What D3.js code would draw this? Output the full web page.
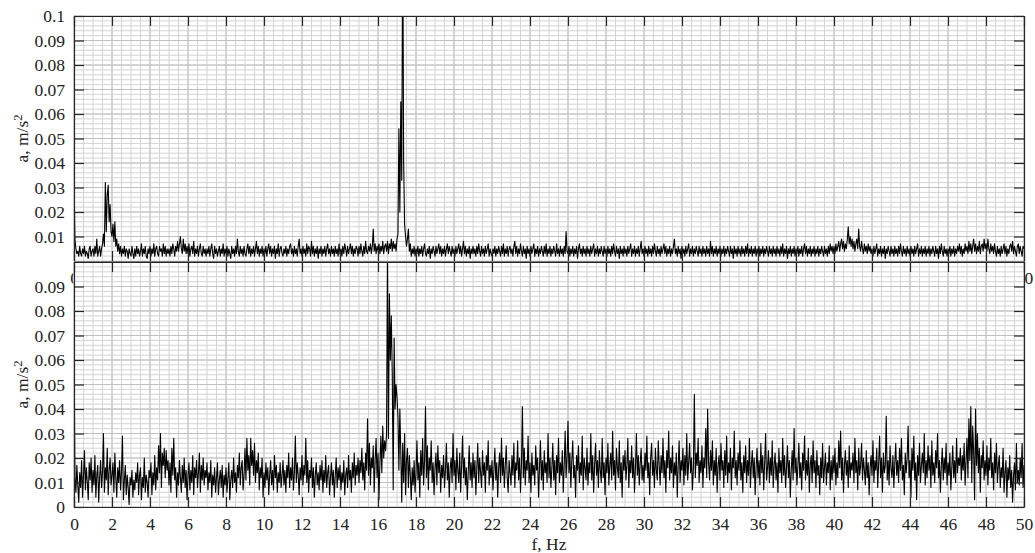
<!DOCTYPE html>
<html>
<head>
<meta charset="utf-8">
<script src="https://cdn.jsdelivr.net/npm/d3@7"></script>
<style>
  body { margin: 0; background: #fff; }
  text { font-family: "Liberation Serif", "Times New Roman", serif; }
</style>
</head>
<body>
<div id="chart"></div>
<script>
// spectrum amplitudes, m/s^2, frequency 0..50 Hz, 20 points per Hz (one row = 1 Hz)
const fMax = 50;

const accTop = [
0.035,0.009,0.005,0.003,0.004,0.002,0.006,0.003,0.002,0.005,0.003,0.006,0.002,0.004,0.003,0.001,0.005,0.006,0.002,0.004,
0.005,0.002,0.006,0.003,0.009,0.002,0.004,0.006,0.002,0.005,0.007,0.011,0.006,0.032,0.012,0.027,0.031,0.016,0.023,0.012,
0.010,0.015,0.008,0.016,0.006,0.009,0.004,0.007,0.003,0.006,0.002,0.005,0.003,0.006,0.002,0.005,0.004,0.001,0.005,0.003,
0.002,0.006,0.003,0.001,0.005,0.002,0.006,0.003,0.005,0.002,0.004,0.007,0.002,0.005,0.003,0.006,0.002,0.001,0.005,0.003,
0.006,0.002,0.005,0.003,0.007,0.002,0.005,0.006,0.003,0.002,0.006,0.004,0.005,0.002,0.007,0.003,0.006,0.002,0.005,0.003,
0.005,0.002,0.006,0.003,0.007,0.005,0.002,0.006,0.004,0.008,0.004,0.007,0.010,0.005,0.003,0.009,0.004,0.007,0.003,0.006,
0.003,0.007,0.002,0.005,0.006,0.003,0.008,0.002,0.005,0.003,0.006,0.002,0.005,0.007,0.003,0.002,0.006,0.003,0.005,0.002,
0.005,0.003,0.006,0.002,0.005,0.007,0.003,0.001,0.006,0.003,0.005,0.002,0.004,0.006,0.002,0.005,0.003,0.007,0.002,0.005,
0.003,0.006,0.002,0.005,0.003,0.001,0.006,0.003,0.005,0.002,0.006,0.003,0.009,0.004,0.002,0.006,0.003,0.005,0.002,0.006,
0.003,0.002,0.005,0.007,0.003,0.006,0.002,0.005,0.003,0.006,0.002,0.005,0.008,0.003,0.006,0.002,0.005,0.003,0.006,0.002,
0.005,0.003,0.006,0.002,0.005,0.007,0.003,0.006,0.002,0.005,0.003,0.006,0.001,0.005,0.003,0.007,0.002,0.005,0.006,0.003,
0.002,0.005,0.003,0.006,0.002,0.005,0.003,0.006,0.007,0.003,0.005,0.002,0.006,0.003,0.005,0.002,0.006,0.009,0.003,0.005,
0.002,0.006,0.003,0.005,0.002,0.007,0.003,0.006,0.005,0.002,0.008,0.003,0.006,0.002,0.005,0.003,0.006,0.001,0.005,0.003,
0.006,0.002,0.005,0.003,0.006,0.002,0.005,0.007,0.003,0.005,0.002,0.006,0.003,0.005,0.002,0.006,0.003,0.005,0.002,0.007,
0.003,0.005,0.002,0.006,0.003,0.007,0.005,0.002,0.006,0.003,0.005,0.007,0.003,0.006,0.002,0.005,0.003,0.006,0.005,0.002,
0.006,0.003,0.007,0.004,0.002,0.006,0.003,0.008,0.004,0.003,0.006,0.004,0.007,0.003,0.006,0.013,0.004,0.007,0.003,0.006,
0.004,0.007,0.003,0.006,0.004,0.008,0.003,0.006,0.007,0.004,0.008,0.003,0.007,0.005,0.009,0.004,0.008,0.005,0.007,0.004,
0.009,0.011,0.054,0.020,0.065,0.033,0.140,0.040,0.015,0.010,0.006,0.009,0.013,0.004,0.007,0.002,0.005,0.003,0.006,0.002,
0.005,0.003,0.006,0.002,0.005,0.003,0.006,0.002,0.005,0.007,0.003,0.002,0.005,0.003,0.006,0.001,0.005,0.003,0.006,0.004,
0.002,0.006,0.003,0.005,0.007,0.003,0.006,0.002,0.005,0.003,0.006,0.002,0.005,0.007,0.003,0.006,0.004,0.002,0.006,0.003,
0.005,0.002,0.006,0.003,0.005,0.007,0.003,0.006,0.002,0.005,0.008,0.003,0.006,0.002,0.005,0.003,0.006,0.001,0.005,0.003,
0.006,0.003,0.005,0.002,0.006,0.003,0.007,0.004,0.002,0.006,0.003,0.005,0.002,0.006,0.003,0.005,0.007,0.002,0.005,0.003,
0.002,0.005,0.003,0.006,0.002,0.005,0.003,0.006,0.004,0.002,0.006,0.003,0.007,0.002,0.005,0.003,0.006,0.002,0.005,0.006,
0.003,0.005,0.002,0.006,0.008,0.003,0.006,0.002,0.005,0.003,0.007,0.004,0.002,0.006,0.003,0.005,0.001,0.006,0.003,0.005,
0.002,0.006,0.003,0.005,0.007,0.002,0.005,0.003,0.006,0.002,0.005,0.003,0.006,0.004,0.002,0.006,0.003,0.007,0.002,0.005,
0.003,0.006,0.002,0.005,0.003,0.006,0.004,0.002,0.007,0.003,0.005,0.002,0.006,0.003,0.005,0.002,0.006,0.003,0.012,0.004,
0.003,0.006,0.002,0.005,0.003,0.006,0.002,0.005,0.003,0.006,0.001,0.005,0.007,0.003,0.005,0.002,0.006,0.003,0.005,0.002,
0.006,0.003,0.005,0.002,0.006,0.003,0.005,0.007,0.002,0.005,0.003,0.006,0.002,0.005,0.003,0.006,0.004,0.002,0.006,0.003,
0.005,0.002,0.006,0.003,0.005,0.002,0.006,0.003,0.007,0.004,0.002,0.006,0.003,0.005,0.001,0.006,0.003,0.005,0.002,0.006,
0.003,0.005,0.002,0.006,0.003,0.005,0.007,0.002,0.005,0.003,0.006,0.002,0.005,0.003,0.006,0.002,0.005,0.008,0.003,0.005,
0.002,0.006,0.003,0.005,0.002,0.006,0.003,0.005,0.002,0.006,0.003,0.007,0.004,0.002,0.006,0.003,0.005,0.002,0.006,0.003,
0.005,0.007,0.003,0.006,0.002,0.005,0.003,0.006,0.002,0.005,0.003,0.006,0.009,0.003,0.005,0.002,0.006,0.003,0.005,0.001,
0.006,0.003,0.005,0.002,0.006,0.003,0.005,0.007,0.002,0.005,0.003,0.006,0.002,0.005,0.003,0.006,0.004,0.002,0.006,0.003,
0.005,0.002,0.006,0.003,0.005,0.002,0.006,0.003,0.005,0.002,0.008,0.003,0.006,0.002,0.005,0.003,0.006,0.002,0.005,0.003,
0.006,0.002,0.005,0.003,0.006,0.002,0.005,0.003,0.006,0.004,0.002,0.006,0.003,0.005,0.001,0.006,0.003,0.005,0.002,0.006,
0.003,0.005,0.002,0.006,0.003,0.005,0.002,0.006,0.003,0.007,0.002,0.005,0.003,0.006,0.002,0.005,0.003,0.006,0.002,0.005,
0.003,0.006,0.002,0.005,0.003,0.006,0.002,0.005,0.003,0.006,0.004,0.002,0.006,0.003,0.005,0.002,0.006,0.003,0.005,0.002,
0.006,0.003,0.005,0.002,0.006,0.003,0.007,0.002,0.005,0.003,0.006,0.001,0.005,0.003,0.006,0.002,0.005,0.003,0.006,0.002,
0.005,0.003,0.006,0.002,0.005,0.003,0.006,0.002,0.005,0.007,0.003,0.006,0.002,0.005,0.003,0.006,0.002,0.005,0.003,0.006,
0.002,0.005,0.003,0.006,0.002,0.005,0.003,0.006,0.004,0.002,0.006,0.003,0.005,0.002,0.006,0.003,0.007,0.004,0.006,0.003,
0.006,0.003,0.007,0.004,0.006,0.008,0.004,0.007,0.009,0.005,0.008,0.004,0.007,0.005,0.009,0.014,0.007,0.010,0.006,0.009,
0.005,0.008,0.004,0.007,0.009,0.005,0.013,0.006,0.004,0.008,0.005,0.003,0.007,0.004,0.006,0.003,0.007,0.004,0.006,0.003,
0.005,0.002,0.006,0.003,0.005,0.007,0.002,0.005,0.003,0.006,0.002,0.005,0.003,0.006,0.001,0.005,0.003,0.006,0.004,0.002,
0.006,0.003,0.005,0.002,0.006,0.003,0.005,0.002,0.006,0.003,0.007,0.004,0.002,0.006,0.003,0.005,0.002,0.006,0.003,0.005,
0.002,0.006,0.003,0.005,0.002,0.006,0.003,0.005,0.007,0.002,0.005,0.003,0.006,0.002,0.005,0.003,0.006,0.002,0.005,0.003,
0.006,0.002,0.005,0.003,0.006,0.004,0.002,0.006,0.003,0.005,0.001,0.006,0.003,0.007,0.004,0.002,0.006,0.003,0.005,0.002,
0.005,0.003,0.006,0.002,0.005,0.003,0.006,0.002,0.005,0.003,0.006,0.004,0.007,0.003,0.006,0.002,0.005,0.003,0.007,0.004,
0.006,0.003,0.008,0.004,0.007,0.003,0.006,0.009,0.004,0.007,0.003,0.006,0.004,0.008,0.003,0.006,0.007,0.004,0.009,0.005,
0.007,0.004,0.009,0.005,0.003,0.007,0.004,0.006,0.003,0.007,0.004,0.002,0.006,0.003,0.005,0.002,0.006,0.003,0.005,0.007,
0.003,0.006,0.002,0.005,0.003,0.006,0.007,0.004,0.008,0.003,0.006,0.004,0.002,0.006,0.007,0.003,0.006,0.004,0.002,0.006,
0.005
];

const accBottom = [
0.071,0.012,0.006,0.017,0.009,0.002,0.014,0.008,0.019,0.004,0.013,0.023,0.007,0.016,0.010,0.003,0.018,0.011,0.020,0.006,
0.015,0.009,0.021,0.004,0.013,0.017,0.002,0.012,0.019,0.008,0.014,0.030,0.006,0.016,0.011,0.024,0.005,0.015,0.020,0.009,
0.013,0.018,0.006,0.022,0.012,0.004,0.016,0.010,0.019,0.007,0.014,0.029,0.003,0.011,0.017,0.005,0.013,0.008,0.001,0.012,
0.009,0.015,0.004,0.011,0.007,0.014,0.010,0.018,0.005,0.013,0.016,0.003,0.012,0.008,0.020,0.006,0.013,0.010,0.004,0.015,
0.012,0.018,0.005,0.014,0.009,0.021,0.007,0.016,0.011,0.025,0.014,0.030,0.008,0.022,0.017,0.024,0.012,0.023,0.015,0.019,
0.009,0.018,0.006,0.024,0.013,0.028,0.011,0.016,0.004,0.014,0.009,0.019,0.012,0.006,0.017,0.010,0.020,0.008,0.015,0.003,
0.013,0.018,0.007,0.015,0.010,0.021,0.005,0.016,0.012,0.019,0.008,0.014,0.022,0.006,0.017,0.011,0.020,0.009,0.015,0.012,
0.018,0.007,0.014,0.010,0.019,0.004,0.013,0.009,0.016,0.006,0.012,0.018,0.005,0.011,0.015,0.008,0.017,0.004,0.013,0.009,
0.016,0.006,0.012,0.018,0.003,0.011,0.015,0.008,0.020,0.010,0.014,0.006,0.017,0.012,0.022,0.009,0.016,0.019,0.007,0.013,
0.024,0.011,0.028,0.015,0.021,0.009,0.028,0.017,0.023,0.013,0.026,0.010,0.019,0.014,0.022,0.007,0.016,0.012,0.020,0.004,
0.014,0.008,0.018,0.011,0.016,0.005,0.013,0.019,0.009,0.015,0.007,0.021,0.012,0.017,0.006,0.014,0.010,0.018,0.008,0.013,
0.019,0.009,0.015,0.006,0.017,0.012,0.022,0.008,0.016,0.011,0.020,0.007,0.014,0.029,0.010,0.018,0.013,0.005,0.016,0.011,
0.021,0.009,0.017,0.013,0.028,0.010,0.019,0.006,0.015,0.012,0.020,0.008,0.016,0.004,0.013,0.018,0.009,0.014,0.007,0.017,
0.011,0.019,0.006,0.015,0.010,0.021,0.008,0.014,0.017,0.005,0.012,0.018,0.009,0.015,0.004,0.013,0.020,0.008,0.016,0.011,
0.017,0.007,0.014,0.010,0.019,0.005,0.013,0.016,0.008,0.021,0.011,0.015,0.006,0.018,0.012,0.022,0.009,0.017,0.013,0.020,
0.010,0.019,0.014,0.024,0.011,0.018,0.007,0.022,0.015,0.036,0.013,0.026,0.009,0.020,0.016,0.025,0.006,0.019,0.028,0.012,
0.022,0.003,0.018,0.029,0.014,0.033,0.020,0.027,0.023,0.030,0.108,0.028,0.087,0.060,0.078,0.055,0.007,0.069,0.040,0.050,
0.045,0.037,0.015,0.040,0.022,0.002,0.026,0.010,0.030,0.005,0.019,0.024,0.008,0.021,0.013,0.003,0.016,0.009,0.019,0.006,
0.014,0.027,0.011,0.018,0.004,0.023,0.013,0.028,0.009,0.019,0.041,0.012,0.025,0.007,0.020,0.015,0.027,0.010,0.018,0.005,
0.016,0.022,0.009,0.025,0.014,0.019,0.006,0.017,0.012,0.021,0.008,0.015,0.026,0.011,0.018,0.004,0.016,0.020,0.010,0.030,
0.013,0.019,0.007,0.024,0.015,0.010,0.022,0.006,0.017,0.029,0.012,0.020,0.009,0.016,0.003,0.014,0.025,0.011,0.018,0.008,
0.022,0.012,0.019,0.005,0.016,0.026,0.010,0.020,0.014,0.008,0.023,0.013,0.018,0.006,0.021,0.015,0.027,0.009,0.017,0.012,
0.019,0.007,0.015,0.024,0.011,0.018,0.004,0.016,0.022,0.010,0.028,0.013,0.020,0.008,0.017,0.025,0.012,0.006,0.019,0.014,
0.009,0.021,0.013,0.026,0.008,0.018,0.015,0.027,0.011,0.020,0.006,0.017,0.041,0.012,0.024,0.009,0.019,0.015,0.029,0.010,
0.018,0.006,0.022,0.013,0.017,0.009,0.025,0.015,0.020,0.004,0.016,0.027,0.011,0.019,0.007,0.023,0.014,0.018,0.010,0.030,
0.012,0.020,0.008,0.016,0.026,0.011,0.019,0.005,0.021,0.014,0.028,0.010,0.018,0.013,0.023,0.006,0.017,0.031,0.012,0.020,
0.035,0.014,0.022,0.008,0.019,0.027,0.012,0.017,0.004,0.021,0.015,0.025,0.010,0.018,0.013,0.029,0.007,0.020,0.016,0.011,
0.024,0.009,0.018,0.014,0.030,0.011,0.021,0.006,0.017,0.026,0.013,0.019,0.008,0.023,0.015,0.010,0.028,0.012,0.018,0.005,
0.020,0.014,0.026,0.009,0.017,0.022,0.011,0.031,0.013,0.019,0.007,0.024,0.016,0.012,0.027,0.010,0.018,0.004,0.021,0.015,
0.023,0.011,0.017,0.028,0.008,0.019,0.014,0.025,0.012,0.020,0.006,0.016,0.030,0.013,0.021,0.009,0.018,0.024,0.011,0.017,
0.010,0.022,0.015,0.029,0.012,0.018,0.005,0.020,0.026,0.013,0.019,0.008,0.024,0.015,0.011,0.027,0.017,0.009,0.021,0.014,
0.028,0.012,0.019,0.006,0.023,0.016,0.031,0.011,0.020,0.014,0.025,0.008,0.018,0.013,0.022,0.004,0.017,0.027,0.010,0.019,
0.015,0.024,0.009,0.021,0.013,0.030,0.011,0.018,0.026,0.014,0.020,0.007,0.016,0.046,0.012,0.022,0.017,0.028,0.010,0.019,
0.014,0.025,0.008,0.020,0.016,0.032,0.012,0.040,0.018,0.011,0.023,0.015,0.027,0.009,0.019,0.013,0.024,0.006,0.017,0.021,
0.011,0.026,0.015,0.019,0.008,0.023,0.013,0.029,0.010,0.018,0.014,0.024,0.007,0.020,0.016,0.031,0.012,0.019,0.009,0.022,
0.015,0.027,0.011,0.018,0.006,0.021,0.014,0.025,0.010,0.019,0.013,0.028,0.008,0.017,0.023,0.012,0.020,0.005,0.016,0.024,
0.012,0.019,0.009,0.026,0.014,0.021,0.007,0.018,0.030,0.011,0.016,0.023,0.010,0.020,0.013,0.027,0.008,0.017,0.022,0.011,
0.018,0.006,0.024,0.014,0.019,0.010,0.028,0.013,0.021,0.008,0.016,0.025,0.012,0.019,0.004,0.015,0.023,0.011,0.032,0.014,
0.020,0.009,0.017,0.026,0.012,0.018,0.007,0.022,0.015,0.029,0.011,0.019,0.013,0.024,0.006,0.017,0.021,0.010,0.027,0.014,
0.019,0.008,0.023,0.013,0.017,0.005,0.020,0.012,0.026,0.010,0.016,0.022,0.009,0.018,0.014,0.025,0.007,0.019,0.011,0.021,
0.014,0.024,0.009,0.018,0.012,0.027,0.016,0.031,0.011,0.020,0.006,0.017,0.023,0.013,0.019,0.008,0.025,0.012,0.018,0.015,
0.022,0.010,0.028,0.014,0.019,0.007,0.024,0.013,0.017,0.026,0.011,0.020,0.015,0.009,0.023,0.012,0.018,0.005,0.016,0.021,
0.013,0.027,0.010,0.019,0.015,0.024,0.008,0.018,0.029,0.012,0.020,0.006,0.022,0.014,0.017,0.037,0.011,0.019,0.009,0.025,
0.016,0.012,0.021,0.008,0.018,0.026,0.013,0.019,0.010,0.024,0.015,0.028,0.011,0.017,0.005,0.022,0.014,0.020,0.033,0.012,
0.019,0.004,0.024,0.015,0.029,0.011,0.018,0.003,0.021,0.013,0.026,0.010,0.017,0.022,0.014,0.030,0.009,0.019,0.012,0.025,
0.015,0.021,0.008,0.027,0.013,0.018,0.010,0.023,0.016,0.030,0.012,0.019,0.006,0.017,0.024,0.011,0.020,0.014,0.026,0.009,
0.018,0.013,0.022,0.007,0.016,0.025,0.012,0.019,0.010,0.028,0.014,0.020,0.017,0.024,0.011,0.021,0.015,0.026,0.009,0.019,
0.028,0.012,0.036,0.019,0.041,0.010,0.033,0.022,0.003,0.040,0.017,0.030,0.014,0.024,0.006,0.021,0.016,0.027,0.011,0.019,
0.013,0.025,0.009,0.020,0.015,0.028,0.012,0.018,0.007,0.022,0.014,0.026,0.010,0.017,0.021,0.008,0.016,0.012,0.024,0.006,
0.014,0.019,0.004,0.016,0.011,0.021,0.008,0.015,0.002,0.013,0.018,0.007,0.026,0.010,0.015,0.009,0.020,0.012,0.026,0.008,
0.017
];

const xTicks = [0,2,4,6,8,10,12,14,16,18,20,22,24,26,28,30,32,34,36,38,40,42,44,46,48,50];
const yTicksTop = [0.01,0.02,0.03,0.04,0.05,0.06,0.07,0.08,0.09,0.1];
const yTicksBottom = [0,0.01,0.02,0.03,0.04,0.05,0.06,0.07,0.08,0.09];

const width = 1035, height = 553;
const left = 74, right = 1024;
const axisColor = "#262626";
const fontSize = 17.5;

const svg = d3.select("#chart").append("svg")
    .attr("width", width)
    .attr("height", height);

const x = d3.scaleLinear().domain([0, fMax]).range([left, right]);

const panels = [
  {data: accTop, top: 16, bottom: 261, ticks: yTicksTop},
  {data: accBottom, top: 262, bottom: 507, ticks: yTicksBottom}
];

panels.forEach((p, i) => {
  const y = d3.scaleLinear().domain([0, 0.1]).range([p.bottom, p.top]);
  const g = svg.append("g");

  g.append("rect")
      .attr("x", left).attr("y", p.top)
      .attr("width", right - left).attr("height", p.bottom - p.top)
      .attr("fill", "#fff");

  // minor grid
  g.append("g").selectAll("line").data(x.ticks(100)).join("line")
      .attr("x1", d => x(d)).attr("x2", d => x(d))
      .attr("y1", p.top).attr("y2", p.bottom)
      .attr("stroke", "#d4d4d4");
  g.append("g").selectAll("line").data(y.ticks(50)).join("line")
      .attr("x1", left).attr("x2", right)
      .attr("y1", d => y(d)).attr("y2", d => y(d))
      .attr("stroke", "#d4d4d4");
  // major grid
  g.append("g").selectAll("line").data(xTicks).join("line")
      .attr("x1", d => x(d)).attr("x2", d => x(d))
      .attr("y1", p.top).attr("y2", p.bottom)
      .attr("stroke", "#c0c0c0");
  g.append("g").selectAll("line").data(p.ticks).join("line")
      .attr("x1", left).attr("x2", right)
      .attr("y1", d => y(d)).attr("y2", d => y(d))
      .attr("stroke", "#c0c0c0");

  // spectrum line
  const clipId = "clip" + i;
  svg.append("clipPath").attr("id", clipId)
    .append("rect")
      .attr("x", left).attr("y", p.top)
      .attr("width", right - left).attr("height", p.bottom - p.top);

  const fStep = fMax / (p.data.length - 1);
  const line = d3.line()
      .x((d, k) => x(k * fStep))
      .y(d => y(d));

  g.append("path")
      .datum(p.data)
      .attr("clip-path", `url(#${clipId})`)
      .attr("fill", "none")
      .attr("stroke", "#000")
      .attr("stroke-width", 1.1)
      .attr("stroke-linejoin", "round")
      .attr("d", line);

  // axes (ticks pointing inward)
  const styleAxis = sel => {
    sel.select(".domain").attr("stroke", axisColor).attr("stroke-width", 1.2);
    sel.selectAll(".tick line").attr("stroke", axisColor).attr("stroke-width", 1.2);
    sel.selectAll("text").attr("font-size", fontSize).attr("fill", "#222")
        .attr("font-family", '"Liberation Serif", "Times New Roman", serif');
  };

  g.append("g")
      .attr("transform", `translate(0,${p.bottom})`)
      .call(d3.axisBottom(x).tickValues(xTicks).tickSizeInner(-10).tickSizeOuter(0)
        .tickPadding(11).tickFormat(d => String(d)))
      .call(styleAxis);
  g.append("g")
      .attr("transform", `translate(0,${p.top})`)
      .call(d3.axisTop(x).tickValues(xTicks).tickSizeInner(-10).tickSizeOuter(0).tickFormat(""))
      .call(styleAxis);
  g.append("g")
      .attr("transform", `translate(${left},0)`)
      .call(d3.axisLeft(y).tickValues(p.ticks).tickSizeInner(-10).tickSizeOuter(0)
        .tickPadding(9).tickFormat(d => String(d)))
      .call(styleAxis);
  g.append("g")
      .attr("transform", `translate(${right},0)`)
      .call(d3.axisRight(y).tickValues(p.ticks).tickSizeInner(-10).tickSizeOuter(0).tickFormat(""))
      .call(styleAxis);

  // y label
  const lab = g.append("text")
      .attr("transform", `translate(28,${(p.top + p.bottom) / 2}) rotate(-90)`)
      .attr("text-anchor", "middle")
      .attr("font-size", fontSize)
      .attr("fill", "#222")
      .text("a, m/s");
  lab.append("tspan")
      .attr("dy", "-0.45em")
      .attr("font-size", 12.5)
      .text("2");
});

svg.append("text")
    .attr("x", (left + right) / 2)
    .attr("y", 550)
    .attr("text-anchor", "middle")
    .attr("font-size", fontSize)
    .attr("fill", "#222")
    .text("f, Hz");
</script>
</body>
</html>
